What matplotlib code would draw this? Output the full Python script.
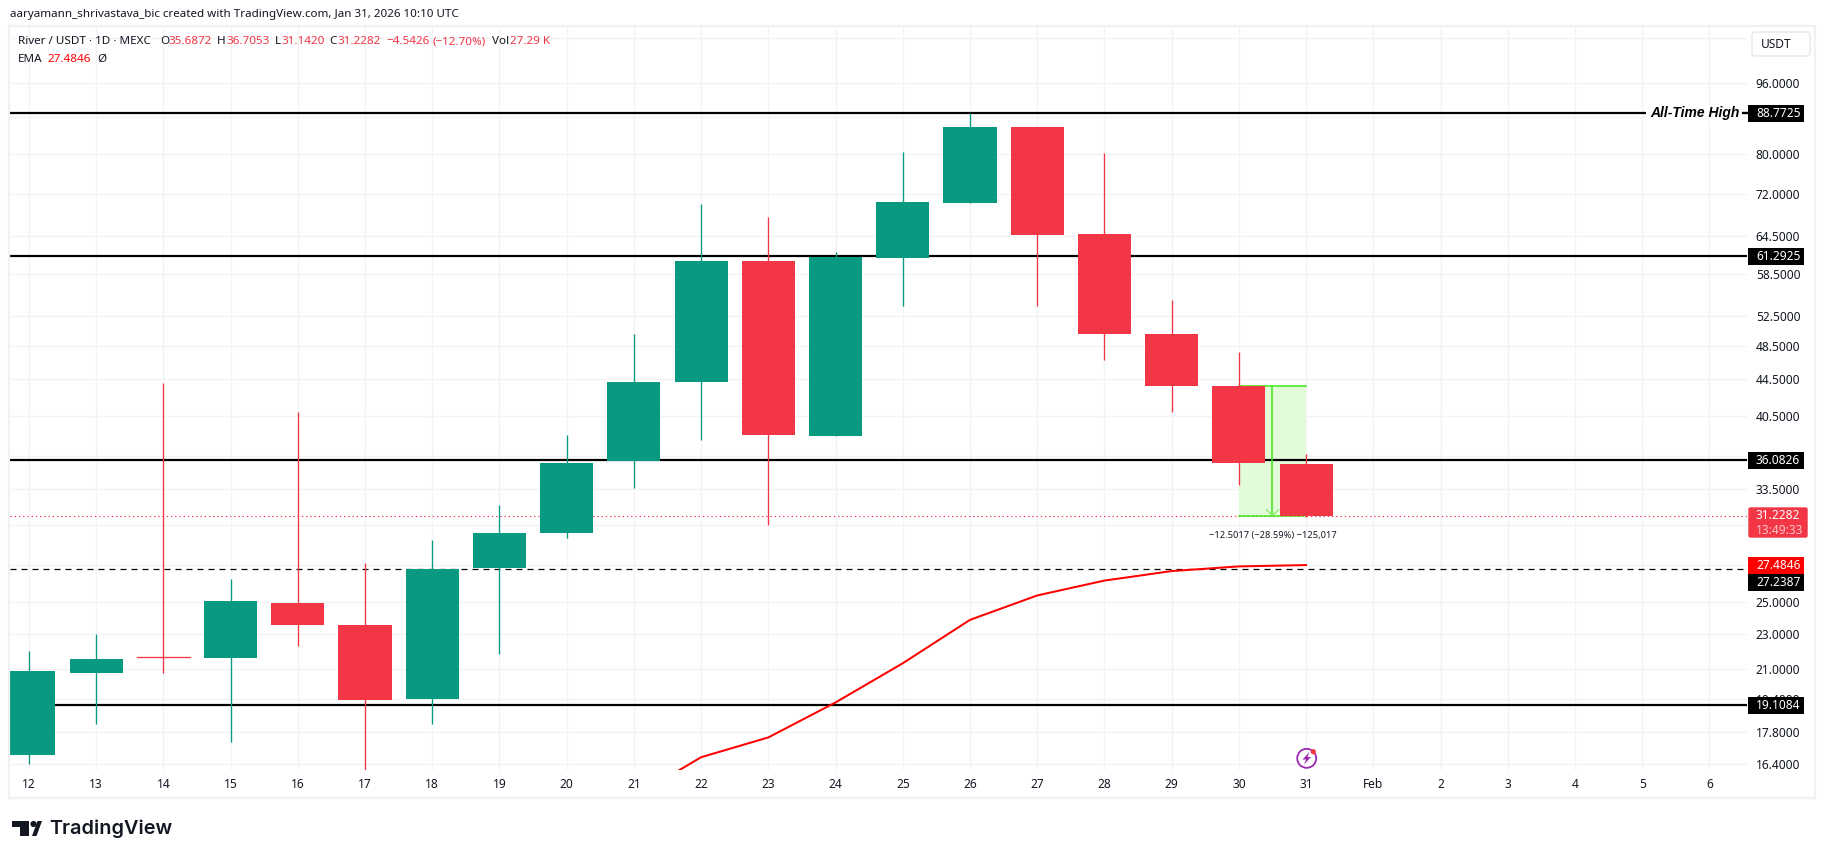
import matplotlib
matplotlib.use("Agg")
import matplotlib.pyplot as plt
from matplotlib.patches import Rectangle, FancyBboxPatch, Polygon, Circle
import numpy as np

plt.rcParams['font.family'] = ['Noto Sans', 'DejaVu Sans']

# ---------- data ----------
day_labels = ["12","13","14","15","16","17","18","19","20","21","22","23","24","25","26","27","28","29","30","31",
              "Feb","2","3","4","5","6"]
opens  = [16.79,20.77,21.65,21.60,24.94,23.55,19.40,27.25,29.85,36.00,44.20,60.60,38.40,61.00,70.40,85.60,65.00,50.10,43.75,35.6872]
highs  = [22.00,22.98,44.10,26.50,40.90,27.60,29.30,32.15,38.50,50.10,70.10,67.80,61.90,80.30,88.77,85.70,80.10,54.70,47.80,36.7053]
lows   = [16.39,18.20,20.77,17.36,22.30,16.14,18.20,21.80,29.50,33.60,38.07,30.50,38.40,53.90,70.30,53.80,46.80,40.90,33.80,31.1420]
closes = [20.85,21.56,21.58,25.05,23.55,19.35,27.20,29.90,35.85,44.20,60.60,38.50,61.20,70.50,85.80,64.80,50.10,43.80,35.78,31.2282]

ema_days = [9,10,11,12,13,14,15,16,17,18,19]
ema_vals = [15.05,16.69,17.57,19.24,21.30,23.84,25.40,26.40,27.06,27.39,27.4846]

price_ticks = [108,96,88,80,72,64.5,58.5,52.5,48.5,44.5,40.5,36.5,33.5,30.5,27.5,25,23,21,19.4,17.8,16.4]
hidden_ticks = [108,88,30.5,27.5]
level_prices = [88.7725,61.2925,36.0826,19.1084]
last_price = 31.2282
ema_last = 27.4846
cross_price = 27.2387
measure_top = 43.73
measure_days = [18,19]

GREEN = '#089981'; RED = '#F23645'; EMA = '#FF0000'; INK = '#131722'
GRID = '#F2F3F5'; FILL = '#E2FBD9'; MEAS = '#3FE81A'

W, H = 1825, 859
fig = plt.figure(figsize=(W/100, H/100), dpi=100, facecolor='white')

# plot pane in pixels
L, R, T, B = 10, 1747, 26, 770
ax = fig.add_axes([L/W, 1-B/H, (R-L)/W, (B-T)/H], zorder=1)
ax.set_yscale('log')
k = 385.2
ax.set_ylim(96*np.exp(-(B-83.3)/k), 96*np.exp((83.3-T)/k))
ax.set_xlim((L-28.9)/67.22, (R-28.9)/67.22)
for s in ax.spines.values():
    s.set_visible(False)
ax.yaxis.tick_right()
ax.set_yticks(price_ticks)
ax.set_yticklabels(["" if p in hidden_ticks else f"{p:.4f}" for p in price_ticks], fontsize=8.6, color=INK)
ax.minorticks_off()
ax.set_xticks(range(len(day_labels)))
ax.set_xticklabels(day_labels, fontsize=8.6, color=INK)
for t in ax.get_xticklabels():
    if t.get_text() == "Feb":
        t.set_fontweight('semibold')
ax.tick_params(axis='y', length=0, pad=6.3)
ax.tick_params(axis='x', length=0, pad=5.5)
ax.grid(True, color=GRID, lw=1.0, zorder=0)
ax.set_axisbelow(True)

# measure tool background
ax.add_patch(Rectangle((measure_days[0], last_price), measure_days[1]-measure_days[0],
                       measure_top-last_price, fc=FILL, ec='none', zorder=1))

# horizontal levels
for p in level_prices:
    ax.axhline(p, color='black', lw=1.6, zorder=2)
ax.axhline(cross_price, color='black', lw=0.9, ls=(0, (4.8, 4.0)), zorder=2)
ax.axhline(last_price, color=RED, lw=0.8, ls=(0, (1.2, 2.6)), zorder=2)

# measure tool lines
ax.plot(measure_days, [measure_top]*2, color=MEAS, lw=1.1, zorder=2.2)
ax.plot(measure_days, [last_price]*2, color=MEAS, lw=1.1, zorder=2.2)
mid = sum(measure_days)/2
ax.plot([mid, mid], [measure_top, last_price], color=MEAS, lw=1.1, zorder=2.2)

# candles
for i, (o, h, l, c) in enumerate(zip(opens, highs, lows, closes)):
    col = GREEN if c >= o else RED
    ax.plot([i, i], [l, h], color=col, lw=0.95, zorder=3, solid_capstyle='butt')
    lo, hi = min(o, c), max(o, c)
    ax.bar(i, hi-lo, bottom=lo, width=0.79, color=col, lw=0, zorder=3.1)
# doji candle body stays visible
i_doji = 2
ax.plot([i_doji-0.395, i_doji+0.395], [opens[i_doji]*0.999]*2, color=RED, lw=0.95, zorder=3.1)

# EMA
ax.plot(ema_days, ema_vals, color=EMA, lw=1.45, zorder=4)

# ---------- overlay in pixel coordinates ----------
ov = fig.add_axes([0, 0, 1, 1], zorder=5, facecolor='none')
ov.set_xlim(0, W); ov.set_ylim(H, 0); ov.axis('off')

def py(price):
    return H - ax.transData.transform((0, price))[1]

ov.add_patch(Rectangle((9.5, 25.5), 1805.5, 772.5, fc='none', ec='#F0F1F3', lw=1.6, zorder=1))

# arrow head
ax_mid = ax.transData.transform((mid, last_price))[0]
ov.plot([ax_mid-6, ax_mid, ax_mid+6], [py(last_price)-6, py(last_price)-0.5, py(last_price)-6],
        color='#8DEB6F', lw=1.0, zorder=2)
ov.text(ax_mid, 535.5, "\u221212.5017 (\u221228.59%) \u2212125,017", fontsize=6.7, color=INK,
        ha='center', va='center', zorder=2)

# All-time-high label
ov.add_patch(Rectangle((1646, py(88.7725)-8), 97, 16, fc='white', ec='none', zorder=2))
ov.plot([1743, 1747], [py(88.7725)]*2, color='black', lw=1.6, zorder=2)
ov.text(1740, py(88.7725), "All-Time High", fontsize=10, fontweight='bold', fontstyle='italic',
        family='Liberation Sans', color='black', ha='right', va='center', zorder=3)

def tag(y, h, text, color, right=1803.7, tcolor='white'):
    ov.add_patch(Rectangle((1748, y-h/2), right-1748, h, fc=color, ec='none', zorder=3))
    ov.text(1756, y, text, fontsize=8.6, color=tcolor, ha='left', va='center', zorder=4, fontweight='semibold')

for p in level_prices:
    tag(py(p), 17, f"{p:.4f}", 'black')
# last price tag with countdown
ov.add_patch(FancyBboxPatch((1749, 508), 58, 29, boxstyle='round,pad=0,rounding_size=1.5',
                            fc=RED, ec=RED, lw=1, zorder=3))
ov.text(1756, 515.5, f"{last_price:.4f}", fontsize=8.6, color='white', va='center', zorder=4, fontweight='semibold')
ov.text(1756, 530, "13:49:33", fontsize=8.6, color='#FBC4C9', va='center', zorder=4)
tag(565.5, 17, f"{ema_last:.4f}", EMA)
tag(582.5, 17, f"{cross_price:.4f}", 'black')

# USDT button
ov.add_patch(FancyBboxPatch((1752, 32), 58, 24, boxstyle='round,pad=0,rounding_size=3',
                            fc='white', ec='#E6E8EC', lw=1, zorder=3))
ov.text(1760.5, 44.5, "USDT", fontsize=8.6, color=INK, va='center', zorder=4)

# headline
ov.text(10, 15, "aaryamann_shrivastava_bic created with TradingView.com, Jan 31, 2026 10:10 UTC",
        fontsize=8.37, color=INK, va='center')

LEG = [(18, "River / USDT \u00b7 1D \u00b7 MEXC", INK),
       (160, "O", INK), (168.5, "35.6872", RED),
       (217, "H", INK), (226, "36.7053", RED),
       (275, "L", INK), (281.7, "31.1420", RED),
       (329.5, "C", INK), (337.5, "31.2282", RED),
       (386.7, "\u22124.5426", RED), (433, "(\u221212.70%)", RED),
       (492, "Vol", INK), (510, "27.29 K", RED)]
for xp, s, c in LEG:
    ov.text(xp, 41.5, s, fontsize=8.4, color=c, va='center')
ov.text(18, 59, "EMA", fontsize=8.4, color=INK, va='center')
ov.text(47.7, 59, f"{ema_last:.4f}", fontsize=8.4, color=EMA, va='center')
ov.text(97.7, 59, "\u00d8", fontsize=8.4, color=INK, va='center')

# lightning icon
ov.add_patch(Circle((1306.7, 758.3), 9.5, fc='white', ec='#9C27B0', lw=1.3, zorder=3))
ov.add_patch(Polygon([(1309.5, 752), (1302.5, 759.5), (1306, 759.5), (1304, 764.5),
                      (1311, 757), (1307.5, 757)], fc='#9C27B0', ec='none', zorder=4))
ov.add_patch(Circle((1313.3, 751.7), 2.6, fc=RED, ec='none', zorder=5))

# TradingView logo
ov.add_patch(Polygon([(12, 821), (29, 821), (29, 836), (20, 836), (20, 827), (12, 827)], fc='#131722', ec='none'))
ov.add_patch(Circle((33.5, 824), 3.1, fc='#131722', ec='none'))
ov.add_patch(Polygon([(32, 836), (37.5, 821), (42, 821), (36.5, 836)], fc='#131722', ec='none'))
ov.text(49.5, 828.5, "TradingView", fontsize=14.3, fontweight='semibold', family='Inter', color='#131722', va='center')

fig.savefig('out.png', dpi=100, facecolor='white')
